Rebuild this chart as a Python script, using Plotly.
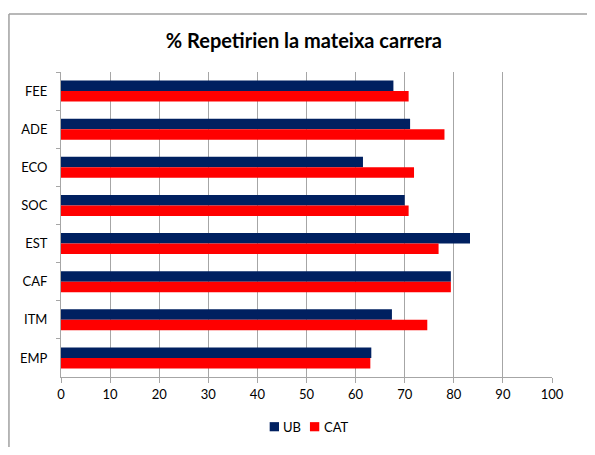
import plotly.graph_objects as go

# categories top -> bottom
categories = ["FEE", "ADE", "ECO", "SOC", "EST", "CAF", "ITM", "EMP"]
ub_values = [67.7, 71.1, 61.5, 70.0, 83.3, 79.4, 67.4, 63.2]
cat_values = [70.8, 78.1, 71.9, 70.8, 76.9, 79.4, 74.6, 63.0]
x_ticks = [0, 10, 20, 30, 40, 50, 60, 70, 80, 90, 100]
series_names = ["UB", "CAT"]
series_colors = ["#002060", "#FF0000"]

FONT = "Lato, 'Open Sans', sans-serif"

fig = go.Figure()
for name, vals, col in zip(series_names, [ub_values, cat_values], series_colors):
    fig.add_trace(go.Bar(y=categories, x=vals, name=name, orientation="h",
                         marker=dict(color=col, line_width=0), showlegend=False))

# hand-made legend (small squares right next to the text, as in Excel)
legend_shapes = []
legend_notes = []
lx = [0.425, 0.507]
for name, col, x0 in zip(series_names, series_colors, lx):
    legend_shapes.append(dict(type="rect", xref="paper", yref="paper",
                              x0=x0, x1=x0 + 0.019, y0=-0.178, y1=-0.148,
                              fillcolor=col, line_width=0))
    legend_notes.append(dict(text=name, xref="paper", yref="paper", x=x0 + 0.024,
                             y=-0.163, xanchor="left", yanchor="middle",
                             showarrow=False, font=dict(size=13)))

# chart frame: only the top and left edges show in the reference crop
frame = [
    dict(type="line", xref="paper", yref="paper", x0=-0.106, x1=1.2, y0=1.19, y1=1.19,
         line=dict(color="#a0a0a0", width=1.5), layer="below"),
    dict(type="line", xref="paper", yref="paper", x0=-0.106, x1=-0.106, y0=-0.4, y1=1.19,
         line=dict(color="#a0a0a0", width=1.5), layer="below"),
]

# page body has an 8px margin: keep the figure small enough to avoid scrollbars
fig.update_layout(
    width=579, height=439,
    margin=dict(l=53, r=35, t=64, b=70),
    paper_bgcolor="white", plot_bgcolor="white",
    font=dict(family=FONT, size=13, color="#000000"),
    barmode="group", bargap=0.45, bargroupgap=0,
    title=dict(text="<b>% Repetirien la mateixa carrera</b>", x=0.511, xanchor="center",
               y=0.925, yanchor="middle", font=dict(size=20, family=FONT)),
    showlegend=False,
    xaxis=dict(range=[0, 100], tickvals=x_ticks, showgrid=True, gridcolor="#a6a6a6",
               gridwidth=1, showline=True, linecolor="#a6a6a6", ticks="outside",
               ticklen=5, tickcolor="#a6a6a6", zeroline=False, automargin=False,
               tickfont=dict(size=13)),
    yaxis=dict(autorange="reversed", showline=True, linecolor="#a6a6a6",
               ticks="outside", tickson="boundaries", ticklen=4, tickcolor="#a6a6a6",
               showgrid=False, ticklabelstandoff=10, automargin=False,
               tickfont=dict(size=13)),
    shapes=frame + legend_shapes,
    annotations=legend_notes,
)

fig.write_html("out.html")
